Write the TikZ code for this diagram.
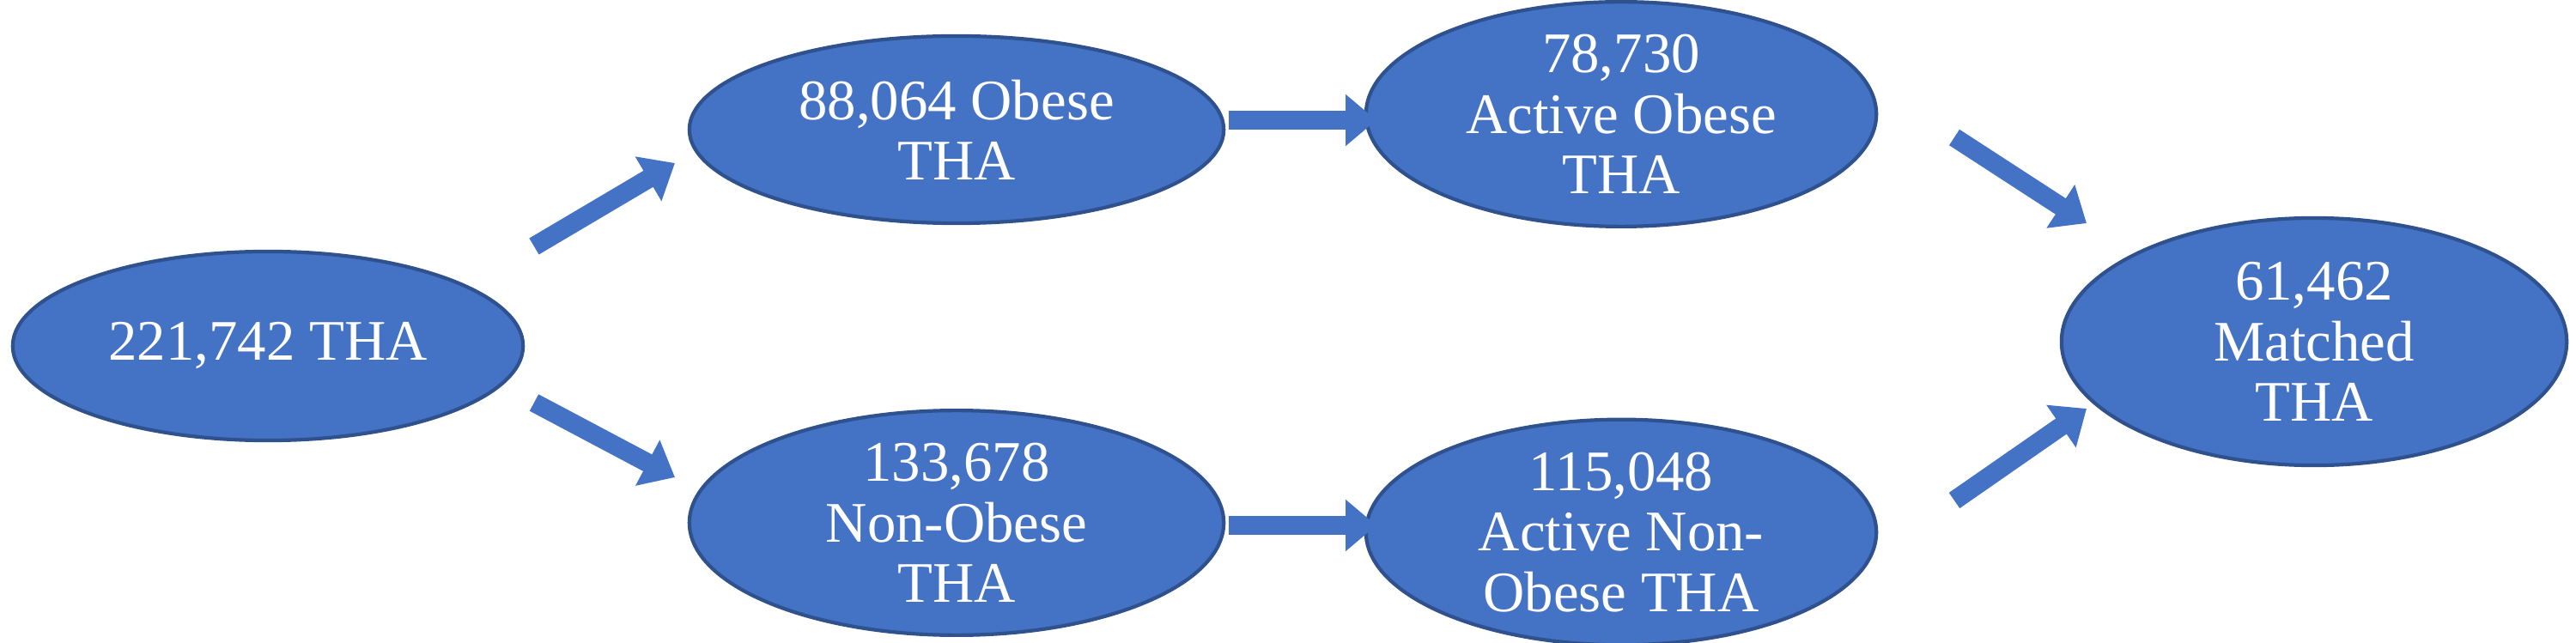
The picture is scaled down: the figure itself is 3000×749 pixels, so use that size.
\documentclass[tikz,border=0pt]{standalone}
\usepackage{fontspec}
\setmainfont{Liberation Serif}
\usetikzlibrary{shapes.geometric,arrows.meta}
\definecolor{fillblue}{HTML}{4472C4}
\definecolor{lineblue}{HTML}{2F528F}
\tikzset{
  stage/.style={ellipse, fill=fillblue, draw=lineblue, line width=1.2pt, inner sep=0pt,
    text=white, align=center, font=\fontsize{19}{20}\selectfont},
  flow/.style={fillblue, line width=0.22cm, -{Triangle[width=0.58cm,length=0.36cm]}}
}
\begin{document}
\begin{tikzpicture}[x=0.01cm,y=-0.01cm]
  \useasboundingbox (0,0) rectangle (3000,749);

  \node[stage, minimum width=5.94cm, minimum height=2.20cm] (all) at (312,403) {221,742 THA};
  \node[stage, minimum width=6.22cm, minimum height=2.18cm] (obese) at (1114,151) {88,064 Obese\\THA};
  \node[stage, minimum width=5.94cm, minimum height=2.12cm] (actobese) at (1888,133) {78,730\\Active Obese\\THA};
  \node[stage, minimum width=6.22cm, minimum height=2.16cm] (nonobese) at (1114,609) {133,678\\Non-Obese\\THA};
  \node[stage, minimum width=5.94cm, minimum height=2.14cm] (actnon) at (1888,620) {115,048\\Active Non-\\Obese THA};
  \node[stage, minimum width=5.88cm, minimum height=2.88cm] (matched) at (2695,398) {61,462\\Matched\\THA};

  % block arrows between the stages
  \coordinate (a1) at (622,287);  \coordinate (a2) at (786,190);
  \coordinate (b1) at (622,469);  \coordinate (b2) at (786,556);
  \coordinate (c1) at (1431,140); \coordinate (c2) at (1603,140);
  \coordinate (d1) at (1431,612); \coordinate (d2) at (1603,612);
  \coordinate (e1) at (2276,160); \coordinate (e2) at (2430,260);
  \coordinate (f1) at (2276,583); \coordinate (f2) at (2430,476);

  \draw[flow] (a1) -- (a2);
  \draw[flow] (b1) -- (b2);
  \draw[flow] (c1) -- (c2);
  \draw[flow] (d1) -- (d2);
  \draw[flow] (e1) -- (e2);
  \draw[flow] (f1) -- (f2);
\end{tikzpicture}
\end{document}
